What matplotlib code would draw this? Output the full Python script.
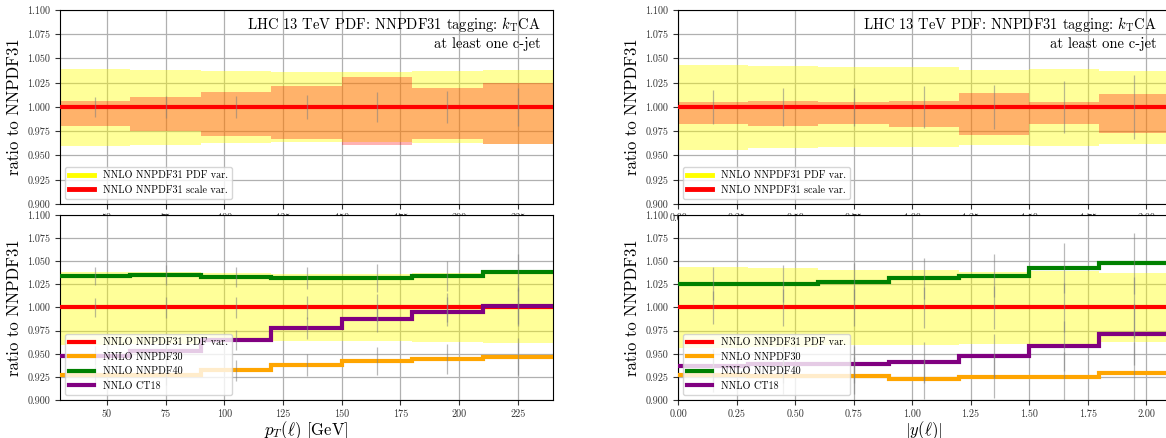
import matplotlib
matplotlib.use('Agg')
import matplotlib.pyplot as plt
from matplotlib.lines import Line2D
import numpy as np

# --- STYLE ---
plt.rcParams['font.family'] = 'serif'
plt.rcParams['font.serif'] = ['cmr10']
plt.rcParams['mathtext.fontset'] = 'cm'
plt.rcParams['axes.formatter.use_mathtext'] = True
plt.rcParams['axes.unicode_minus'] = False

# --- DATA: lepton pT ---
pt_edges = [30, 60, 90, 120, 150, 180, 210, 240]
pt_pdf_up = [1.0388, 1.038, 1.037, 1.036, 1.036, 1.0368, 1.0378]
pt_pdf_dn = [0.960, 0.961, 0.9625, 0.9636, 0.9636, 0.9632, 0.962]
pt_scale_up = [1.006, 1.010, 1.0155, 1.0213, 1.0306, 1.020, 1.0244]
pt_scale_dn = [0.980, 0.975, 0.970, 0.967, 0.961, 0.967, 0.9615]
pt_nnpdf31 = [1.0, 1.0, 1.0, 1.0, 1.0, 1.0, 1.0]
pt_nnpdf30 = [0.927, 0.927, 0.932, 0.938, 0.942, 0.944, 0.947]
pt_nnpdf40 = [1.034, 1.035, 1.033, 1.032, 1.032, 1.034, 1.038]
pt_ct18 = [0.948, 0.953, 0.965, 0.9775, 0.988, 0.9955, 1.002]
pt_stat = [0.010, 0.011, 0.011, 0.012, 0.015, 0.016, 0.020]
pt_ticks = [50, 75, 100, 125, 150, 175, 200, 225]

# --- DATA: lepton |y| ---
y_edges = [0.0, 0.3, 0.6, 0.9, 1.2, 1.5, 1.8, 2.1]
y_pdf_up = [1.0433, 1.0423, 1.041, 1.041, 1.038, 1.039, 1.0375]
y_pdf_dn = [0.956, 0.9577, 0.959, 0.959, 0.9608, 0.960, 0.9622]
y_scale_up = [1.0055, 1.006, 1.005, 1.006, 1.0148, 1.0055, 1.013]
y_scale_dn = [0.9828, 0.980, 0.982, 0.9797, 0.9715, 0.9825, 0.9735]
y_nnpdf31 = [1.0, 1.0, 1.0, 1.0, 1.0, 1.0, 1.0]
y_nnpdf30 = [0.927, 0.9263, 0.926, 0.9227, 0.9252, 0.9249, 0.9292]
y_nnpdf40 = [1.0258, 1.0258, 1.028, 1.0315, 1.0344, 1.0427, 1.0477]
y_ct18 = [0.9371, 0.9386, 0.9386, 0.9407, 0.948, 0.9587, 0.9713]
y_stat = [0.018, 0.020, 0.020, 0.022, 0.023, 0.027, 0.033]
y_ticks = [0.0, 0.25, 0.5, 0.75, 1.0, 1.25, 1.5, 1.75, 2.0]

ratio_ticks = [0.900, 0.925, 0.950, 0.975, 1.000, 1.025, 1.050, 1.075, 1.100]
title_text = 'LHC 13 TeV PDF: NNPDF31 tagging: $k_\\mathrm{T}$CA\nat least one c-jet'

W, H = 1166, 438
fig = plt.figure(figsize=(W / 100, H / 100), dpi=100)


def px_axes(x0, x1, y0, y1):
    """axes from pixel box (origin top-left)"""
    return fig.add_axes([x0 / W, (H - y1) / H, (x1 - x0) / W, (y1 - y0) / H])


def band(ax, edges, lo, hi, **kw):
    lo = list(lo) + [lo[-1]]
    hi = list(hi) + [hi[-1]]
    ax.fill_between(edges, lo, hi, step='post', linewidth=0, **kw)


def stat_bars(ax, edges, vals, errs):
    centers = 0.5 * (np.array(edges[:-1]) + np.array(edges[1:]))
    ax.errorbar(centers, vals, yerr=errs, fmt='none', ecolor='gray',
                alpha=0.55, elinewidth=0.9, zorder=4)


def style(ax, edges, ticks, fmt):
    ax.set_xlim(edges[0], edges[-1])
    ax.set_ylim(0.9, 1.1)
    ax.set_yticks(ratio_ticks)
    ax.set_yticklabels(['%.3f' % t for t in ratio_ticks])
    ax.set_xticks(ticks)
    ax.set_xticklabels([fmt % t for t in ticks])
    ax.tick_params(labelsize=7.3, colors='#333333')
    ax.grid(True, color='#b0b0b0', linewidth=0.9)
    ax.set_axisbelow(True)
    ax.set_ylabel('ratio to NNPDF31', fontsize=12)


def draw_column(x0, x1, edges, pdf_up, pdf_dn, sc_up, sc_dn, n31, n30, n40, ct18, stat,
                ticks, fmt, xlabel):
    # top panel: PDF and scale bands
    ax1 = px_axes(x0, x1, 10, 204)
    band(ax1, edges, pdf_dn, pdf_up, color='yellow', alpha=0.4, zorder=2)
    band(ax1, edges, sc_dn, sc_up, color='red', alpha=0.3, zorder=2)
    ax1.stairs(n31, edges, baseline=None, color='red', linewidth=3, zorder=3)
    stat_bars(ax1, edges, n31, stat)
    style(ax1, edges, ticks, fmt)
    ax1.text(0.975, 0.975, title_text, transform=ax1.transAxes, ha='right', va='top',
             multialignment='right', fontsize=10.5, linespacing=1.25)
    handles = [Line2D([], [], color='yellow', lw=3.5), Line2D([], [], color='red', lw=3.5)]
    ax1.legend(handles, ['NNLO NNPDF31 PDF var.', 'NNLO NNPDF31 scale var.'],
               loc='lower left', fontsize=7.3, handlelength=2.5)

    # bottom panel: PDF set comparison
    ax2 = px_axes(x0, x1, 215, 400)
    band(ax2, edges, pdf_dn, pdf_up, color='yellow', alpha=0.4, zorder=2)
    series = [(n31, 'red', 'NNLO NNPDF31 PDF var.'), (n30, 'orange', 'NNLO NNPDF30'),
              (n40, 'green', 'NNLO NNPDF40'), (ct18, 'purple', 'NNLO CT18')]
    for vals, col, lab in series:
        ax2.stairs(vals, edges, baseline=None, color=col, linewidth=3, zorder=3, label=lab)
        stat_bars(ax2, edges, vals, stat)
    style(ax2, edges, ticks, fmt)
    ax2.set_xlabel(xlabel, fontsize=12, labelpad=0)
    ax2.legend(loc='lower left', fontsize=7.3, handlelength=2.5)


draw_column(60, 553, pt_edges, pt_pdf_up, pt_pdf_dn, pt_scale_up, pt_scale_dn,
            pt_nnpdf31, pt_nnpdf30, pt_nnpdf40, pt_ct18, pt_stat,
            pt_ticks, '%d', r'$p_T(\ell)$ [GeV]')
draw_column(678, 1169.5, y_edges, y_pdf_up, y_pdf_dn, y_scale_up, y_scale_dn,
            y_nnpdf31, y_nnpdf30, y_nnpdf40, y_ct18, y_stat,
            y_ticks, '%.2f', r'$|y(\ell)|$')

fig.savefig('out.png', dpi=100)
